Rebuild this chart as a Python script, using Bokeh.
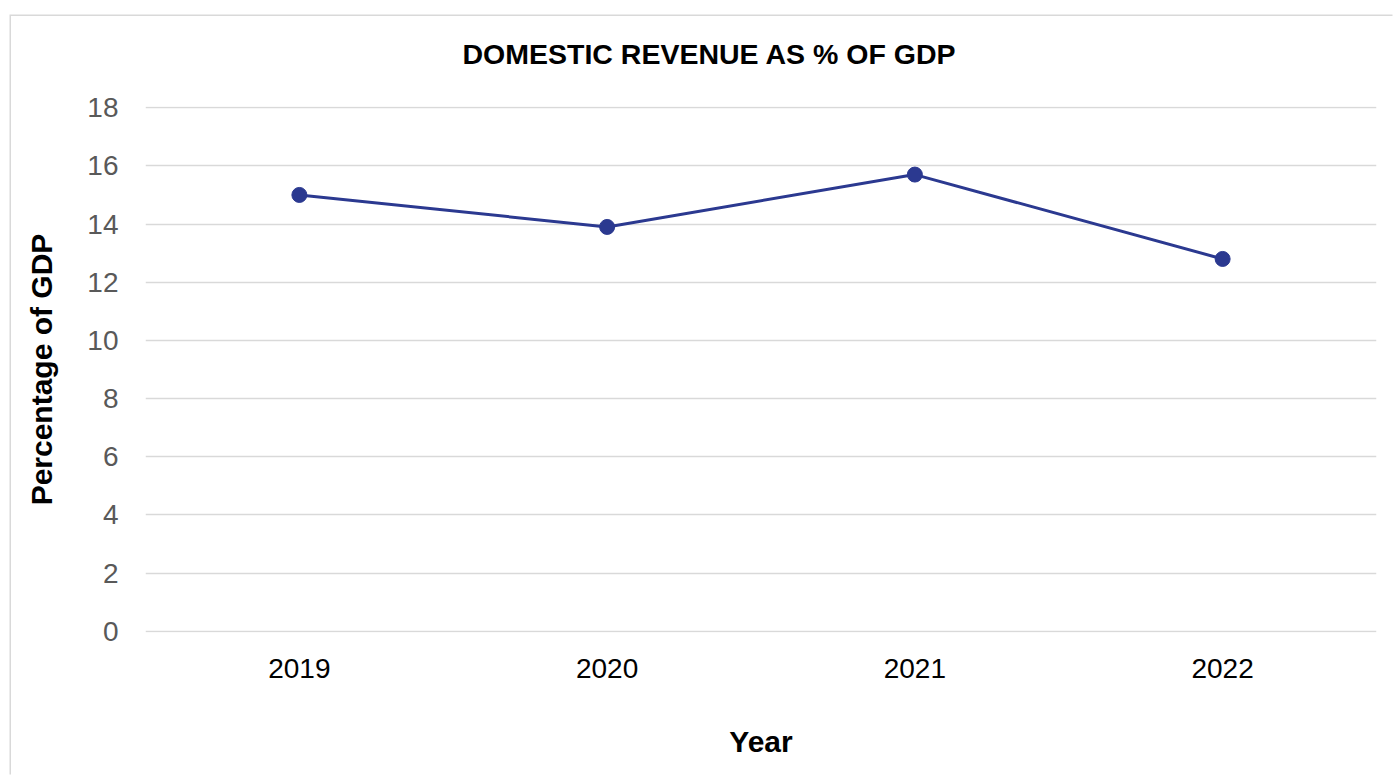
from bokeh.plotting import figure
from bokeh.models import FactorRange, Range1d, FixedTicker, Title
from bokeh.embed import file_html
from bokeh.resources import INLINE

years = ["2019", "2020", "2021", "2022"]
revenue_pct = [15.0, 13.9, 15.7, 12.8]
y_ticks = [0, 2, 4, 6, 8, 10, 12, 14, 16, 18]

LINE = "#2B3990"
GRID = "#D9D9D9"
FONT = "Liberation Sans"

p = figure(
    width=1383, height=760,
    x_range=FactorRange(*years), y_range=Range1d(-0.04, 18.04),
    output_backend="svg", toolbar_location=None,
    min_border_left=134, min_border_right=18,
    min_border_top=90, min_border_bottom=144,
)
p.margin = (16, 0, 0, 11)
p.styles = {"box-shadow": "-1.5px -1.5px 0 0 #D9D9D9"}
p.outline_line_color = None
p.background_fill_color = "white"
p.border_fill_color = "white"

# thin spacer between the frame and the title
p.add_layout(Title(text=" ", text_font_size="1px", standoff=34), "above")

p.title.text = "DOMESTIC REVENUE AS % OF GDP"
p.title.align = "left"
p.title.text_font = FONT
p.title.text_font_size = "28.5px"
p.title.text_font_style = "bold"
p.title.text_color = "black"
p.title.offset = 317
p.title.standoff = 0

p.line(years, revenue_pct, line_color=LINE, line_width=3)
p.scatter(years, revenue_pct, size=15, fill_color=LINE, line_color=LINE)

p.xgrid.grid_line_color = None
p.ygrid.grid_line_color = GRID
p.ygrid.grid_line_width = 1.5

p.yaxis.ticker = FixedTicker(ticks=y_ticks)
for ax in (p.xaxis[0], p.yaxis[0]):
    ax.axis_line_color = None
    ax.major_tick_line_color = None
    ax.minor_tick_line_color = None
    ax.major_label_text_font = FONT
    ax.major_label_text_font_size = "28px"
    ax.axis_label_text_font = FONT
    ax.axis_label_text_font_size = "30px"
    ax.axis_label_text_font_style = "bold"
    ax.axis_label_text_color = "black"

p.yaxis.major_label_text_color = "#595959"
p.xaxis.major_label_text_color = "black"
p.yaxis.axis_label = "Percentage of GDP"
p.xaxis.axis_label = "Year"
p.yaxis.major_label_standoff = 21
p.yaxis.axis_label_standoff = 26
p.xaxis.major_label_standoff = 20
p.xaxis.axis_label_standoff = 44

open("out.html", "w").write(file_html(p, INLINE))
